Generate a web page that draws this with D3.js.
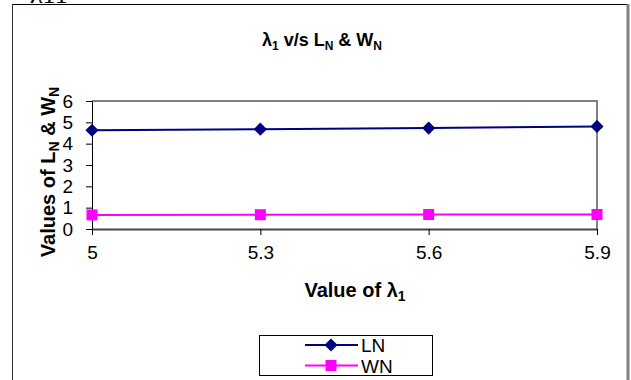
<!DOCTYPE html>
<html><head><meta charset="utf-8">
<script src="https://cdn.jsdelivr.net/npm/d3@7"></script>
<style>body{margin:0;background:#fff}svg{display:block}text{font-family:Arial,"Liberation Sans",sans-serif}</style>
</head><body>
<script>
const categories = ["5", "5.3", "5.6", "5.9"];
const lnValues = [4.63, 4.68, 4.73, 4.81];
const wnValues = [0.66, 0.67, 0.68, 0.68];
const yTicks = [0, 1, 2, 3, 4, 5, 6];
const seriesNames = ["LN", "WN"];

const W = 631, H = 380;
const svg = d3.select("body").append("svg").attr("width", W).attr("height", H);

// cropped text at very top (cut off in the reference as well)
svg.append("text").attr("x", 30).attr("y", 3).style("font-family", "Liberation Serif, serif")
  .style("font-size", "26px").text("λ11");

// outer frame
svg.append("line").attr("x1", 12).attr("x2", 627).attr("y1", 4.5).attr("y2", 4.5).attr("stroke", "#000");
svg.append("line").attr("x1", 12.5).attr("x2", 12.5).attr("y1", 4).attr("y2", H).attr("stroke", "#333");
svg.append("line").attr("x1", 628).attr("x2", 628).attr("y1", 4).attr("y2", H).attr("stroke", "#808080").attr("stroke-width", 3);

const L = 92, R = 597, T = 101, B = 229;
const x = d3.scalePoint().domain(categories).range([L, R]).padding(0);
const y = d3.scaleLinear().domain([0, 6]).range([B, T]);

// plot border top/right
svg.append("path").attr("d", `M${L},${T}H${R}V${B}`).attr("fill", "none").attr("stroke", "#808080").attr("stroke-width", 2);

// y axis
const ya = svg.append("g").attr("transform", `translate(${L},0)`)
  .call(d3.axisLeft(y).tickValues(yTicks).tickFormat(d3.format("d")).tickSize(6).tickSizeOuter(0).tickPadding(13));
ya.select(".domain").attr("stroke", "#000");
ya.selectAll("text").style("font-size", "19px").attr("fill", "#000").style("font-family", "Arial,Liberation Sans,sans-serif");

// x axis
const xa = svg.append("g").attr("transform", `translate(0,${B})`)
  .call(d3.axisBottom(x).tickSize(6).tickSizeOuter(0).tickPadding(11));
xa.select(".domain").attr("stroke", "#444").attr("stroke-width", 2);
xa.selectAll("text").style("font-size", "19px").attr("fill", "#000").style("font-family", "Arial,Liberation Sans,sans-serif");

// lines
const line = d3.line().x((d, i) => x(categories[i])).y(d => y(d));
svg.append("path").datum(lnValues).attr("d", line).attr("fill", "none").attr("stroke", "#000080").attr("stroke-width", 2);
svg.append("path").datum(wnValues).attr("d", line).attr("fill", "none").attr("stroke", "#FF00FF").attr("stroke-width", 2);

const diamond = d3.symbol().type(d3.symbolDiamond2).size(110);
svg.selectAll(".ln").data(lnValues).enter().append("path")
  .attr("transform", (d, i) => `translate(${x(categories[i])},${y(d)})`)
  .attr("d", diamond).attr("fill", "#000080");
svg.selectAll(".wn").data(wnValues).enter().append("rect")
  .attr("x", (d, i) => x(categories[i]) - 5.5).attr("y", d => y(d) - 5.5)
  .attr("width", 11).attr("height", 11).attr("fill", "#FF00FF");

// title
const title = svg.append("text").attr("x", 322).attr("y", 46).attr("text-anchor", "middle")
  .style("font-size", "18px").style("font-weight", "bold");
title.append("tspan").text("λ");
title.append("tspan").style("font-size", "12px").attr("dy", 4).text("1");
title.append("tspan").attr("dy", -4).text(" v/s L");
title.append("tspan").style("font-size", "12px").attr("dy", 4).text("N");
title.append("tspan").attr("dy", -4).text(" & W");
title.append("tspan").style("font-size", "12px").attr("dy", 4).text("N");

// x label
const xl = svg.append("text").attr("x", 355).attr("y", 297).attr("text-anchor", "middle")
  .style("font-size", "20px").style("font-weight", "bold");
xl.append("tspan").text("Value of λ");
xl.append("tspan").style("font-size", "14px").attr("dy", 4).text("1");

// y label
const yl = svg.append("text").attr("transform", "translate(55,172) rotate(-90)").attr("text-anchor", "middle")
  .style("font-size", "20px").style("font-weight", "bold");
yl.append("tspan").text("Values of L");
yl.append("tspan").style("font-size", "14px").attr("dy", 4).text("N");
yl.append("tspan").attr("dy", -4).text(" & W");
yl.append("tspan").style("font-size", "14px").attr("dy", 4).text("N");

// legend
svg.append("rect").attr("x", 259.5).attr("y", 335.5).attr("width", 173).attr("height", 40)
  .attr("fill", "#fff").attr("stroke", "#000");
const legColors = ["#000080", "#FF00FF"];
seriesNames.forEach((n, i) => {
  const cy = 345 + i * 20.5;
  svg.append("line").attr("x1", 305).attr("x2", 358).attr("y1", cy).attr("y2", cy).attr("stroke", legColors[i]).attr("stroke-width", 2);
  if (i === 0) svg.append("path").attr("transform", `translate(331,${cy})`).attr("d", diamond).attr("fill", legColors[0]);
  else svg.append("rect").attr("x", 325.5).attr("y", cy - 5.5).attr("width", 11).attr("height", 11).attr("fill", legColors[1]);
  svg.append("text").attr("x", 361).attr("y", cy + 7).style("font-size", "19px").text(n);
});
</script>
</body></html>
